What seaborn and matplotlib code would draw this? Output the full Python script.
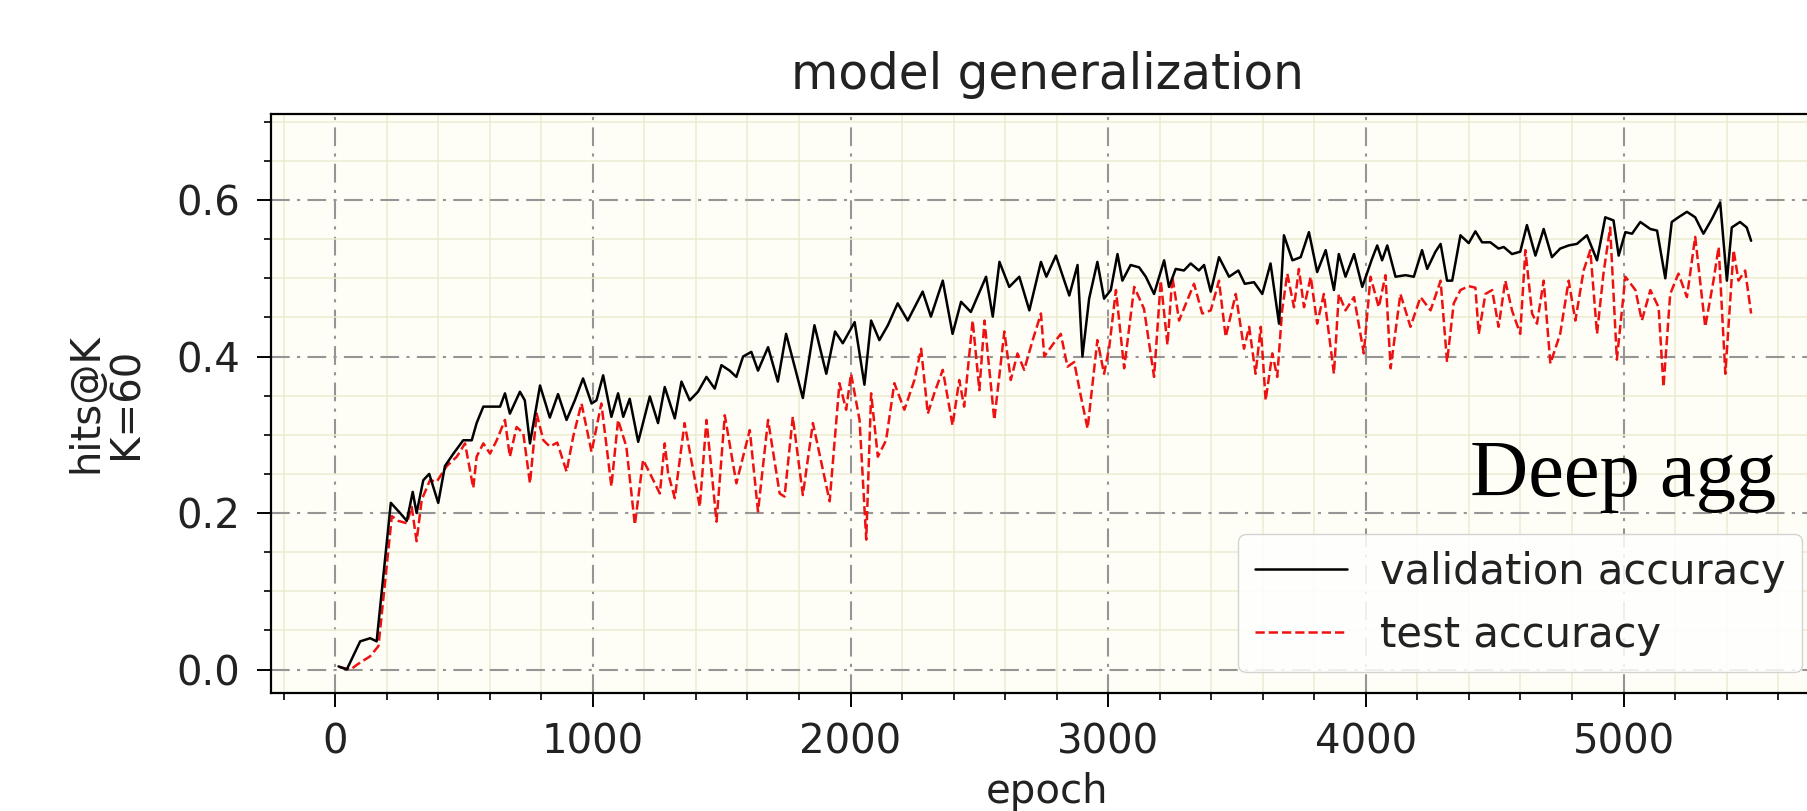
import matplotlib
matplotlib.use("Agg")
import matplotlib.pyplot as plt
import seaborn as sns
import pandas as pd
from matplotlib.ticker import MultipleLocator

# ---------------- data ----------------
val_epoch = [13, 45, 97, 136, 161, 216, 252, 278, 301, 316, 342, 365, 400, 426, 459, 497,
             530, 549, 575, 640, 659, 678, 717, 736, 756, 795, 833, 865, 898, 930, 962, 995,
             1014, 1040, 1072, 1098, 1118, 1143, 1176, 1221, 1253, 1279, 1318, 1344, 1376,
             1408, 1441, 1473, 1499, 1531, 1557, 1583, 1615, 1641, 1680, 1718, 1750, 1815,
             1860, 1906, 1940, 1970, 2016, 2054, 2080, 2112, 2145, 2183, 2222, 2280, 2312,
             2358, 2396, 2429, 2467, 2526, 2552, 2578, 2616, 2655, 2694, 2739, 2760, 2797,
             2849, 2881, 2900, 2926, 2958, 2984, 3010, 3036, 3055, 3087, 3120, 3146, 3178,
             3217, 3236, 3262, 3294, 3320, 3352, 3372, 3398, 3430, 3469, 3505, 3530, 3566,
             3598, 3630, 3663, 3682, 3715, 3747, 3779, 3811, 3844, 3876, 3895, 3921, 3954,
             3986, 4024, 4044, 4063, 4083, 4115, 4154, 4186, 4218, 4238, 4270, 4290, 4315,
             4335, 4367, 4399, 4425, 4451, 4483, 4515, 4535, 4567, 4599, 4625, 4658, 4690,
             4722, 4754, 4787, 4819, 4858, 4897, 4929, 4961, 4981, 5007, 5033, 5065, 5104,
             5130, 5162, 5187, 5213, 5246, 5278, 5310, 5343, 5375, 5401, 5420, 5452, 5478,
             5495]
val_acc = [0.004, 0.000, 0.036, 0.040, 0.036, 0.213, 0.200, 0.190, 0.227, 0.200, 0.242, 0.250,
           0.213, 0.260, 0.276, 0.293, 0.293, 0.315, 0.336, 0.336, 0.353, 0.327, 0.355, 0.344,
           0.289, 0.363, 0.322, 0.352, 0.319, 0.344, 0.372, 0.340, 0.344, 0.376, 0.323, 0.353,
           0.323, 0.346, 0.291, 0.349, 0.315, 0.361, 0.321, 0.368, 0.344, 0.355, 0.374, 0.359,
           0.389, 0.382, 0.374, 0.400, 0.406, 0.382, 0.412, 0.368, 0.429, 0.347, 0.440, 0.378,
           0.432, 0.417, 0.444, 0.364, 0.446, 0.421, 0.440, 0.468, 0.446, 0.483, 0.451, 0.497,
           0.429, 0.470, 0.457, 0.502, 0.451, 0.521, 0.489, 0.502, 0.459, 0.521, 0.502, 0.529,
           0.478, 0.517, 0.400, 0.474, 0.521, 0.474, 0.485, 0.531, 0.497, 0.517, 0.514, 0.502,
           0.480, 0.523, 0.489, 0.512, 0.510, 0.519, 0.510, 0.517, 0.483, 0.527, 0.502, 0.510,
           0.493, 0.495, 0.480, 0.519, 0.442, 0.555, 0.523, 0.527, 0.559, 0.508, 0.536, 0.485,
           0.531, 0.502, 0.531, 0.489, 0.525, 0.542, 0.523, 0.542, 0.502, 0.504, 0.502, 0.536,
           0.512, 0.534, 0.544, 0.497, 0.497, 0.555, 0.545, 0.560, 0.546, 0.546, 0.538, 0.540,
           0.531, 0.534, 0.568, 0.529, 0.563, 0.527, 0.538, 0.542, 0.544, 0.555, 0.523, 0.578,
           0.574, 0.529, 0.559, 0.557, 0.572, 0.563, 0.561, 0.500, 0.572, 0.578, 0.585, 0.578,
           0.557, 0.576, 0.597, 0.497, 0.565, 0.572, 0.565, 0.548]

test_epoch = [19, 60, 84, 136, 168, 220, 245, 278, 297, 316, 336, 368, 394, 433, 472, 504,
              536, 549, 575, 601, 627, 659, 678, 704, 730, 756, 782, 808, 833, 862, 898, 924,
              956, 995, 1033, 1072, 1098, 1130, 1163, 1195, 1221, 1260, 1279, 1292, 1318, 1356,
              1415, 1441, 1480, 1512, 1557, 1609, 1641, 1680, 1725, 1744, 1776, 1815, 1854,
              1919, 1957, 1983, 2002, 2035, 2061, 2080, 2106, 2138, 2170, 2209, 2248, 2274,
              2300, 2325, 2358, 2396, 2422, 2441, 2474, 2500, 2520, 2558, 2597, 2622, 2648,
              2674, 2707, 2739, 2752, 2784, 2816, 2842, 2868, 2894, 2920, 2958, 2984, 3004,
              3030, 3062, 3101, 3139, 3178, 3204, 3230, 3249, 3275, 3333, 3365, 3398, 3430,
              3456, 3495, 3527, 3547, 3572, 3592, 3611, 3637, 3656, 3675, 3695, 3721, 3740,
              3760, 3786, 3811, 3837, 3876, 3895, 3921, 3954, 3992, 4018, 4050, 4076, 4096,
              4134, 4173, 4212, 4251, 4290, 4315, 4341, 4367, 4399, 4425, 4438, 4464, 4490,
              4515, 4541, 4567, 4599, 4619, 4645, 4664, 4690, 4716, 4754, 4787, 4813, 4845,
              4871, 4897, 4922, 4948, 4974, 5007, 5046, 5071, 5104, 5136, 5155, 5181, 5213,
              5246, 5278, 5317, 5349, 5369, 5395, 5427, 5446, 5472, 5495]
test_acc = [0.003, 0.000, 0.006, 0.017, 0.030, 0.196, 0.190, 0.187, 0.208, 0.164, 0.217, 0.242,
            0.240, 0.260, 0.272, 0.289, 0.232, 0.272, 0.289, 0.276, 0.293, 0.319, 0.272, 0.310,
            0.302, 0.238, 0.327, 0.293, 0.285, 0.290, 0.253, 0.298, 0.340, 0.278, 0.340, 0.234,
            0.319, 0.285, 0.185, 0.268, 0.251, 0.225, 0.289, 0.251, 0.219, 0.315, 0.208, 0.319,
            0.189, 0.325, 0.238, 0.306, 0.202, 0.319, 0.225, 0.221, 0.323, 0.223, 0.315, 0.215,
            0.366, 0.332, 0.378, 0.319, 0.166, 0.353, 0.272, 0.293, 0.366, 0.332, 0.370, 0.410,
            0.327, 0.353, 0.383, 0.312, 0.370, 0.336, 0.446, 0.357, 0.446, 0.319, 0.432, 0.370,
            0.404, 0.383, 0.421, 0.455, 0.400, 0.415, 0.429, 0.387, 0.393, 0.349, 0.308, 0.421,
            0.378, 0.412, 0.485, 0.385, 0.489, 0.461, 0.374, 0.497, 0.415, 0.502, 0.446, 0.493,
            0.455, 0.459, 0.497, 0.425, 0.480, 0.410, 0.438, 0.378, 0.438, 0.344, 0.404, 0.374,
            0.459, 0.506, 0.463, 0.512, 0.463, 0.502, 0.442, 0.480, 0.378, 0.480, 0.459, 0.476,
            0.404, 0.502, 0.463, 0.504, 0.385, 0.480, 0.438, 0.476, 0.459, 0.497, 0.393, 0.468,
            0.485, 0.490, 0.488, 0.429, 0.480, 0.485, 0.438, 0.497, 0.459, 0.429, 0.536, 0.455,
            0.442, 0.497, 0.391, 0.429, 0.497, 0.446, 0.510, 0.536, 0.429, 0.506, 0.565, 0.396,
            0.502, 0.485, 0.446, 0.485, 0.463, 0.361, 0.480, 0.506, 0.476, 0.553, 0.438, 0.497,
            0.540, 0.378, 0.536, 0.497, 0.510, 0.455]

series_labels = ["validation accuracy", "test accuracy"]
x_ticks = [0, 1000, 2000, 3000, 4000, 5000]
y_ticks = [0.0, 0.2, 0.4, 0.6]
title_text = "model generalization"
x_label = "epoch"
y_label = "hits@K\nK=60"
note_text = "Deep agg"

# ---------------- style ----------------
sns.set_theme(style="ticks")
plt.rcParams['font.family'] = ['DejaVu Sans']
plt.rcParams['axes.edgecolor'] = 'black'

W, H = 1808, 811
fig = plt.figure(figsize=(W / 100, H / 100), dpi=100)
fig.patch.set_facecolor('white')
ax = fig.add_axes([271 / W, (H - 693) / H, 1552 / W, 579 / H])
ax.set_facecolor('#fefef6')

val_df = pd.DataFrame({"epoch": val_epoch, "acc": val_acc})
test_df = pd.DataFrame({"epoch": test_epoch, "acc": test_acc})

sns.lineplot(data=val_df, x="epoch", y="acc", ax=ax, color='black', linewidth=1.8,
             label=series_labels[0], estimator=None, sort=False, zorder=3)
sns.lineplot(data=test_df, x="epoch", y="acc", ax=ax, color='#ee1111', linewidth=1.8,
             linestyle='--', label=series_labels[1], estimator=None, sort=False, zorder=2)

ax.set_xlim(-249, 5774)
ax.set_ylim(-0.03, 0.71)
ax.set_xticks(x_ticks)
ax.set_yticks(y_ticks)
ax.xaxis.set_minor_locator(MultipleLocator(200))
ax.yaxis.set_minor_locator(MultipleLocator(0.05))
ax.set_axisbelow(True)
ax.grid(which='minor', color='#ebebd2', linestyle='-', linewidth=1.1)
ax.grid(which='major', color='#959595', linestyle=(0, (9, 3.5, 1.5, 3.5)), linewidth=1.5)

ax.tick_params(which='major', direction='out', length=10, width=1.4, labelsize=29,
               color='black', labelcolor='#222222')
ax.tick_params(axis='x', which='major', pad=11)
ax.tick_params(axis='y', which='major', pad=12)
ax.tick_params(which='minor', direction='out', length=5, width=1.2, color='black')
for s in ax.spines.values():
    s.set_linewidth(1.6)
    s.set_color('black')

ax.set_title(title_text, fontsize=35, pad=18, color='#222222')
ax.set_xlabel(x_label, fontsize=29, labelpad=7, color='#222222')
ax.set_ylabel(y_label, fontsize=29, labelpad=22, color='#222222', linespacing=1.0)

leg = ax.legend(loc='lower right', fontsize=30, frameon=True, fancybox=True,
                framealpha=0.85, edgecolor='#cccccc', facecolor='white',
                handlelength=2.2, borderaxespad=0.5)
for t in leg.get_texts():
    t.set_color('#222222')

fig.text(1470 / W, (H - 496) / H, note_text, family=['Liberation Serif', 'DejaVu Serif'],
         fontsize=58, ha='left', va='baseline', color='black')

fig.savefig("out.png", dpi=100)
